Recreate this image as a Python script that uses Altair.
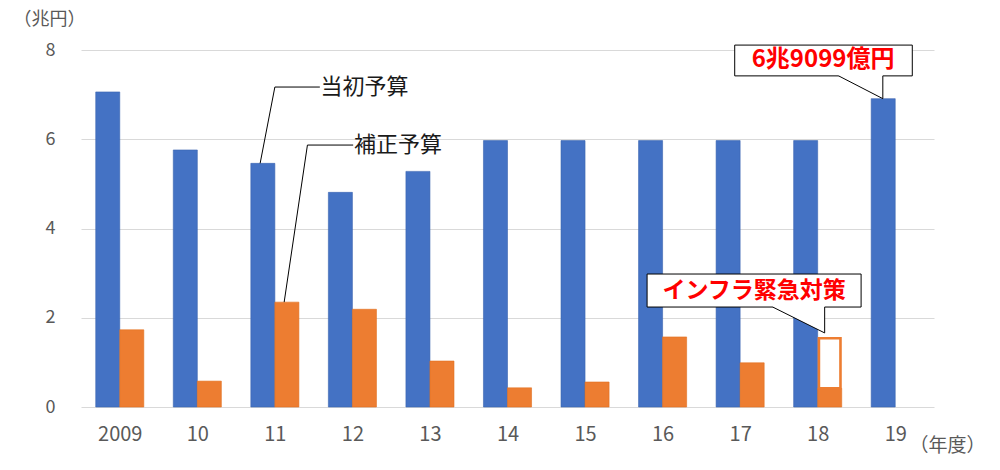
import altair as alt
import pandas as pd

# 公共事業関係費（兆円）
years = ["2009", "10", "11", "12", "13", "14", "15", "16", "17", "18", "19"]
initial_budget = [7.06, 5.76, 5.46, 4.81, 5.28, 5.97, 5.97, 5.97, 5.97, 5.97, 6.91]
supplementary_budget = [1.73, 0.58, 2.35, 2.19, 1.03, 0.43, 0.56, 1.57, 0.99, 0.42, 0.0]
infra_emergency_top_18 = 1.57

BLUE = "#4472C4"
ORANGE = "#ED7D31"
GRAY = "#595959"
RED = "#FF0000"
FONT = "Noto Sans CJK JP"

idx = list(range(len(years)))
bars = pd.DataFrame({
    "i": idx, "year": years,
    "initial": initial_budget, "supp": supplementary_budget,
})
bars["b0"] = bars["i"] + 0.19
bars["mid"] = bars["i"] + 0.5
bars["o1"] = bars["i"] + 0.81
bars["zero"] = 0.0

x_scale = alt.Scale(domain=[0, 11], nice=False, zero=False)
y_scale = alt.Scale(domain=[0, 8], nice=False)

label_expr = "[" + ",".join(f"'{y}'" for y in years) + "][round(datum.value - 0.5)]"

x_axis = alt.Axis(
    values=[i + 0.5 for i in idx], labelExpr=label_expr, labelAngle=0,
    grid=False, domain=False, ticks=False, tickSize=0, labelPadding=17,
    labelFontSize=20, labelColor=GRAY, labelFont=FONT,
    title="（年度）", titleX=828, titleY=38, titleAlign="left",
    titleBaseline="middle", titleFontWeight="normal", titleFontSize=19,
    titleColor=GRAY, titleFont=FONT,
)
y_axis = alt.Axis(
    values=[0, 2, 4, 6, 8], gridColor="#D9D9D9", domain=False, ticks=False,
    tickSize=0, labelPadding=26, labelFontSize=18, labelColor=GRAY,
    labelFont=FONT,
    title="（兆円）", titleAngle=0, titleX=-68, titleY=-31, titleAlign="left",
    titleBaseline="middle", titleFontWeight="normal", titleFontSize=18,
    titleColor=GRAY, titleFont=FONT,
)

base = alt.Chart(bars)

blue = base.mark_rect(color=BLUE, stroke="#3A64B0", strokeWidth=0.6).encode(
    x=alt.X("b0:Q", scale=x_scale, axis=x_axis),
    x2="mid:Q",
    y=alt.Y("zero:Q", scale=y_scale, axis=y_axis),
    y2="initial:Q",
)

orange = base.transform_filter("datum.supp > 0").mark_rect(
    color=ORANGE, stroke="#E07020", strokeWidth=0.6
).encode(x="mid:Q", x2="o1:Q", y="zero:Q", y2="supp:Q")

# 2018 インフラ緊急対策 (outlined part)
infra = pd.DataFrame({
    "x0": [9 + 0.5 + 0.016], "x1": [9 + 0.81 - 0.016],
    "y0": [supplementary_budget[9]], "y1": [infra_emergency_top_18 - 0.03],
})
infra_bar = alt.Chart(infra).mark_rect(
    fill="white", stroke=ORANGE, strokeWidth=2.6
).encode(x="x0:Q", x2="x1:Q", y="y0:Q", y2="y1:Q")

# leader lines for the series labels
leaders = pd.DataFrame({
    "g": ["a"] * 3 + ["b"] * 3,
    "o": [0, 1, 2] * 2,
    "x": [2.31, 2.50, 3.08, 2.62, 2.92, 3.51],
    "y": [initial_budget[2], 7.17, 7.17, supplementary_budget[2], 5.87, 5.87],
})
leader_lines = alt.Chart(leaders).mark_line(color="black", strokeWidth=1).encode(
    x="x:Q", y="y:Q", detail="g:N", order="o:Q"
)

series_labels = pd.DataFrame({
    "x": [3.09, 3.52], "y": [7.18, 5.88], "t": ["当初予算", "補正予算"],
})
series_text = alt.Chart(series_labels).mark_text(
    align="left", baseline="middle", font=FONT, fontSize=22, color="#1A1A1A"
).encode(x="x:Q", y="y:Q", text="t:N")

# callout boxes
boxes = pd.DataFrame({
    "x0": [8.43, 7.30], "x1": [10.72, 10.06],
    "y0": [7.42, 2.24], "y1": [8.11, 2.98],
})
box_rects = alt.Chart(boxes).mark_rect(
    fill="white", stroke="black", strokeWidth=1
).encode(x="x0:Q", x2="x1:Q", y="y0:Q", y2="y1:Q")

pointers = pd.DataFrame({
    "g": ["p19", "p19", "p18", "p18"],
    "x": [9.77, 10.34, 8.92, 9.59],
    "y": [7.42, initial_budget[10], 2.24, 1.66],
    "y2": [7.46, 7.46, 2.28, 2.28],
})
pointer_fill = alt.Chart(pointers).mark_area(color="white", opacity=1).encode(
    x="x:Q", y="y:Q", y2="y2:Q", detail="g:N"
)
pointer_edges = pd.DataFrame({
    "g": ["p19"] * 3 + ["p18"] * 3,
    "o": [0, 1, 2] * 2,
    "x": [9.77, 10.34, 10.34, 8.92, 9.59, 9.59],
    "y": [7.42, initial_budget[10], 7.42, 2.24, 1.66, 2.24],
})
pointer_lines = alt.Chart(pointer_edges).mark_line(color="black", strokeWidth=1).encode(
    x="x:Q", y="y:Q", detail="g:N", order="o:Q"
)

callout_labels = pd.DataFrame({
    "x": [9.57, 8.68], "y": [7.77, 2.61], "t": ["6兆9099億円", "インフラ緊急対策"],
    "s": [24, 23],
})
callout_text = alt.Chart(callout_labels).mark_text(
    align="center", baseline="middle", font=FONT, fontWeight="bold", color=RED
).encode(x="x:Q", y="y:Q", text="t:N", size=alt.Size("s:Q", scale=None, legend=None))

chart = alt.layer(
    blue, orange, infra_bar, box_rects, pointer_fill, pointer_lines,
    callout_text, leader_lines, series_text,
).properties(
    width=853, height=357,
    autosize=alt.AutoSizeParams(type="none"),
    padding={"left": 73, "top": 42, "right": 58, "bottom": 48},
).configure_view(stroke=None)

chart.save("out.html", embed_options={"renderer": "svg", "actions": False})
